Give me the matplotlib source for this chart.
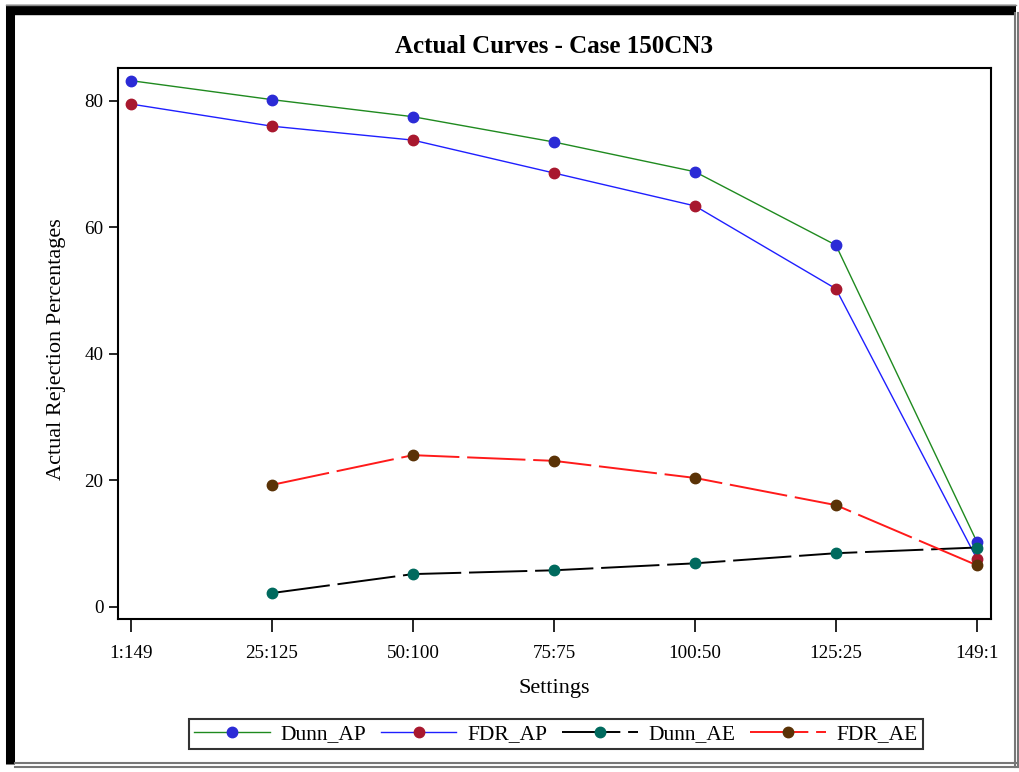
import matplotlib.pyplot as plt
from matplotlib.lines import Line2D

# settings (group sizes) along the x axis
settings = ["1:149", "25:125", "50:100", "75:75", "100:50", "125:25", "149:1"]

# actual rejection percentages
dunn_ap = [83.2, 80.2, 77.5, 73.5, 68.8, 57.2, 10.3]
fdr_ap = [79.5, 76.0, 73.8, 68.6, 63.4, 50.3, 7.6]
dunn_ae = [None, 2.2, 5.2, 5.8, 6.9, 8.5, 9.4]
fdr_ae = [None, 19.3, 24.0, 23.1, 20.4, 16.1, 6.6]

plt.rcParams["font.family"] = ["Liberation Serif", "DejaVu Serif"]
plt.rcParams["font.size"] = 13.7

fig = plt.figure(figsize=(10.2, 7.72), dpi=100)
ax = fig.add_axes([118 / 1020, 1 - 619 / 772, (991 - 118) / 1020, (619 - 68) / 772])

x = list(range(len(settings)))


def pts(vals):
    xs = [i for i, v in zip(x, vals) if v is not None]
    ys = [v for v in vals if v is not None]
    return xs, ys


long_dash = (0, (30, 4))
series = [
    ("Dunn_AP", dunn_ap, "#1f8a1f", "#2b2bd6", "-"),
    ("FDR_AP", fdr_ap, "#1f1fff", "#a8182e", "-"),
    ("Dunn_AE", dunn_ae, "black", "#006a5e", long_dash),
    ("FDR_AE", fdr_ae, "#ff1a1a", "#5a3206", long_dash),
]
for name, vals, lc, mc, ls in series:
    xs, ys = pts(vals)
    ax.plot(xs, ys, color=lc, lw=1.0 if ls == "-" else 1.4, linestyle=ls,
            marker="o", markersize=7.5, markerfacecolor=mc, markeredgecolor=mc,
            label=name)

ax.set_xlim(-0.092, 6.1)
ax.set_ylim(-1.9, 85.2)
ax.set_xticks(x)
ax.set_xticklabels(settings)
ax.set_yticks([0, 20, 40, 60, 80])
ax.tick_params(axis="x", length=9, width=1.2, pad=10)
ax.tick_params(axis="y", length=6.5, width=1.2, pad=4)
for s in ax.spines.values():
    s.set_linewidth(1.5)

ax.set_title("Actual Curves - Case 150CN3", fontsize=18, fontweight="bold", pad=11)
ax.set_xlabel("Settings", fontsize=16, labelpad=12)
ax.set_ylabel("Actual Rejection Percentages", fontsize=16, labelpad=13)
ax.yaxis.label.set_y(0.49)

leg = fig.legend(loc="center", bbox_to_anchor=(556 / 1020, 1 - 734 / 772), ncol=4,
                 frameon=True, fancybox=False, edgecolor="black", handlelength=3.5,
                 columnspacing=0.7, handletextpad=0.5, borderpad=0.25, fontsize=15.5)
leg.get_frame().set_linewidth(1.5)

# outer frame: heavy black top/left, grey double line bottom/right
W, H = 1020, 772


def fline(x0, y0, x1, y1, **kw):
    fig.add_artist(Line2D([x0 / W, x1 / W], [1 - y0 / H, 1 - y1 / H],
                          transform=fig.transFigure, **kw))


fline(6, 10, 1016, 10, color="black", lw=7.5, solid_capstyle="butt")
fline(10.5, 6, 10.5, 764, color="black", lw=6.5, solid_capstyle="butt")
fline(6, 5, 1016, 5, color="#888888", lw=1)
fline(15, 763, 1019, 763, color="#777777", lw=1.5)
fline(15, 767, 1019, 767, color="#777777", lw=1.5)
fline(1015, 13, 1015, 767, color="#777777", lw=1.5)
fline(1018.5, 13, 1018.5, 767, color="#777777", lw=1.5)

fig.savefig("out.png", dpi=100)
